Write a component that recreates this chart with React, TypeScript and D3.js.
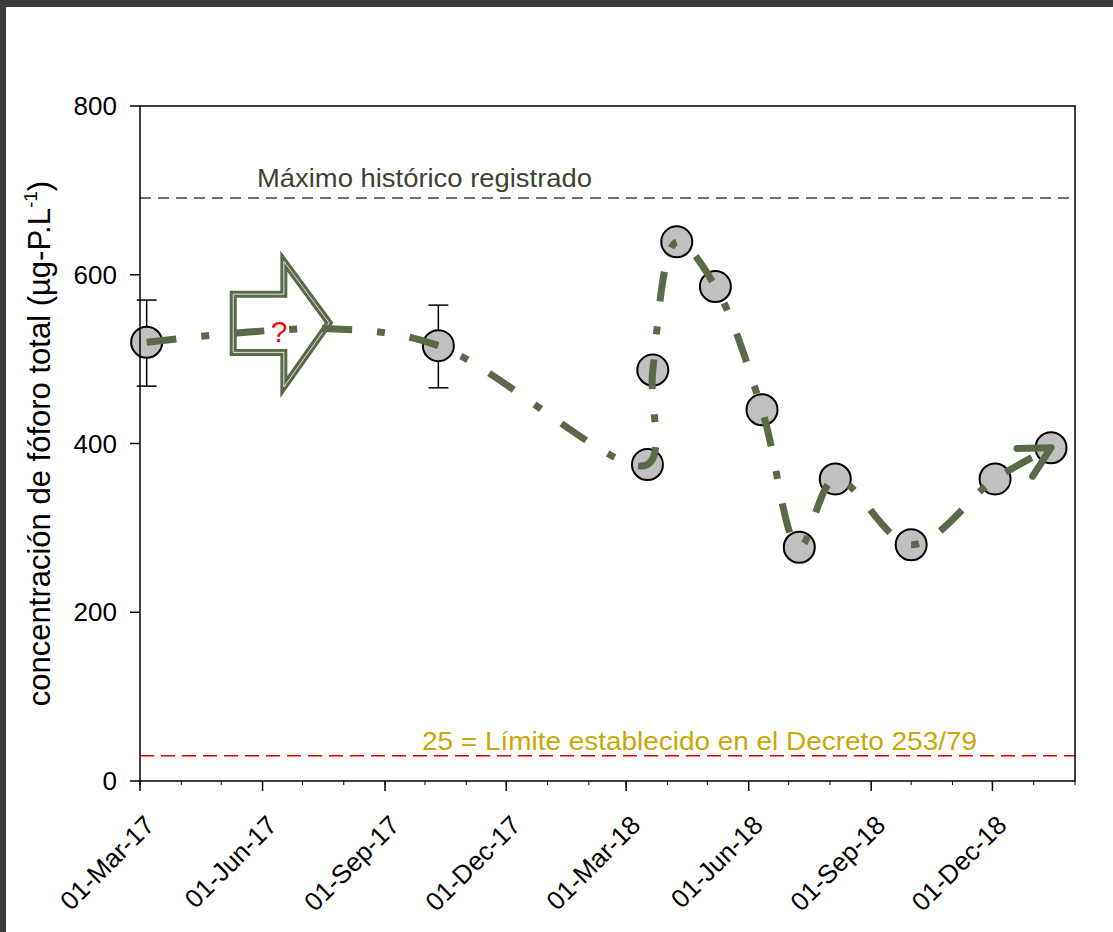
import React from 'react';
import * as d3 from 'd3';

// ---- data ----
const sampleDates = ['2017-03-06', '2017-10-11', '2018-03-17', '2018-03-21', '2018-04-08', '2018-05-07', '2018-06-11', '2018-07-09', '2018-08-05', '2018-10-01', '2018-12-03', '2019-01-14'];
const phosphorus = [520, 516, 375, 487, 639, 586, 440, 277, 358, 280, 358, 395];
const errLow = [468, 466];
const errHigh = [570, 564];
const errIndex = [0, 1];
// waypoint of the hand-drawn trend line at the tip of the "?" arrow (no sample)
const trendVia = { date: '2017-07-21', value: 536, after: 0 };
// block arrow outline (date, value)
const blockArrow: [string, number][] = [
  ['2017-05-10', 577], ['2017-06-17', 577], ['2017-06-17', 616], ['2017-07-21', 543],
  ['2017-06-17', 467], ['2017-06-17', 508], ['2017-05-10', 508],
];
const xTickDates = ['2017-03-01', '2017-06-01', '2017-09-01', '2017-12-01', '2018-03-01', '2018-06-01', '2018-09-01', '2018-12-01'];
const yTicks = [0, 200, 400, 600, 800];
const maxHistoric = 691;
const legalLimit = 30;
const maxLabel = 'Máximo histórico registrado';
const limitLabel = '25 = Límite establecido en el Decreto 253/79';

const parse = (s: string) => {
  const [y, m, d] = s.split('-').map(Number);
  return new Date(y, m - 1, d);
};

const W = 1113, H = 932;
const L = 140, R = 1075, T = 106, B = 781;
const OLIVE = '#5a6949';
const FONT = '"Liberation Sans", Arial, sans-serif';

export default function App() {
  const x = d3.scaleTime().domain([new Date(2017, 2, 1), new Date(2019, 1, 1)]).range([L, R]);
  const y = d3.scaleLinear().domain([0, 800]).range([B, T]);
  const fmt = d3.timeFormat('%d-%b-%y');

  const pts: [number, number][] = sampleDates.map((d, i) => [x(parse(d)), y(phosphorus[i])]);
  const trendPts: [number, number][] = [];
  pts.forEach((p, i) => {
    trendPts.push(p);
    if (i === trendVia.after) trendPts.push([x(parse(trendVia.date)), y(trendVia.value)]);
  });
  const line = d3.line<[number, number]>().curve(d3.curveCatmullRom.alpha(0.5));
  const trendD = line(trendPts) || '';

  // arrowhead at the end
  const pEnd = pts[pts.length - 1];
  const pPrev = pts[pts.length - 2];
  const back = Math.atan2(pPrev[1] - pEnd[1], pPrev[0] - pEnd[0]);
  const armLen = 34, spread = (28 * Math.PI) / 180;
  const arm = (a: number) => [pEnd[0] + armLen * Math.cos(a), pEnd[1] + armLen * Math.sin(a)];
  const a1 = arm(back + spread), a2 = arm(back - spread);
  const headD = `M${a1[0]},${a1[1]}L${pEnd[0]},${pEnd[1]}L${a2[0]},${a2[1]}`;

  const arrowPts = blockArrow.map(([d, v]) => [x(parse(d)), y(v)] as [number, number]);
  const arrowD = 'M' + arrowPts.map((p) => p.join(',')).join('L') + 'Z';

  const minor = d3.timeMonth.range(new Date(2017, 2, 1), new Date(2019, 1, 2));

  return (
    <svg width={W} height={H} style={{ position: 'absolute', left: 0, top: 0 }} fontFamily={FONT}>
      <rect x={0} y={0} width={W} height={H} fill="#3c3c3c" />
      <rect x={6} y={7} width={W - 6} height={H - 7} fill="#ffffff" />

      {/* reference lines */}
      <line x1={L} x2={R} y1={y(maxHistoric)} y2={y(maxHistoric)} stroke="#3c4234" strokeWidth={1.5} strokeDasharray="11,7" />
      <text x={257} y={y(maxHistoric) - 11} fontSize={25} fill="#3b4432" textLength={335} lengthAdjust="spacingAndGlyphs">{maxLabel}</text>
      <line x1={L} x2={R} y1={y(legalLimit)} y2={y(legalLimit)} stroke="#d40000" strokeWidth={1.6} strokeDasharray="14,7" />
      <text x={422} y={y(legalLimit) - 6} fontSize={25} fill="#c9a60a" textLength={555} lengthAdjust="spacingAndGlyphs">{limitLabel}</text>

      {/* error bars */}
      {errIndex.map((idx, k) => {
        const cx = pts[idx][0];
        return (
          <g key={k} stroke="#000" strokeWidth={1.5}>
            <line x1={cx} x2={cx} y1={y(errLow[k])} y2={y(errHigh[k])} />
            <line x1={cx - 10} x2={cx + 10} y1={y(errLow[k])} y2={y(errLow[k])} />
            <line x1={cx - 10} x2={cx + 10} y1={y(errHigh[k])} y2={y(errHigh[k])} />
          </g>
        );
      })}

      {/* points */}
      {pts.map((p, i) => (
        <circle key={i} cx={p[0]} cy={p[1]} r={15.5} fill="#c0c0c0" stroke="#000" strokeWidth={2} />
      ))}

      {/* block arrow with ? */}
      <path d={arrowD} fill="none" stroke={OLIVE} strokeWidth={7} strokeLinejoin="miter" />
      <path d={arrowD} fill="none" stroke="#dfe5d8" strokeWidth={1} strokeLinejoin="miter" />

      {/* trend line */}
      <path d={trendD} fill="none" stroke={OLIVE} strokeWidth={7} strokeDasharray="30,25,8,25" />
      <path d={headD} fill="none" stroke={OLIVE} strokeWidth={7} strokeLinecap="round" strokeLinejoin="round" />
      <text x={279} y={342} fontSize={30} fill="#ff0000" textAnchor="middle">?</text>

      {/* axes frame */}
      <rect x={L} y={T} width={R - L} height={B - T} fill="none" stroke="#000" strokeWidth={1.5} />
      {yTicks.map((t) => (
        <g key={t}>
          <line x1={L - 10} x2={L} y1={y(t)} y2={y(t)} stroke="#000" strokeWidth={1.5} />
          <text x={L - 23} y={y(t)} dy="0.35em" fontSize={26} textAnchor="end" fill="#000">{t}</text>
        </g>
      ))}
      {minor.map((m, i) => (
        <line key={i} x1={x(m)} x2={x(m)} y1={B} y2={B + 4} stroke="#000" strokeWidth={1} />
      ))}
      {xTickDates.map((d) => {
        const xx = x(parse(d));
        return (
          <g key={d}>
            <line x1={xx} x2={xx} y1={B} y2={B + 10} stroke="#000" strokeWidth={1.5} />
            <text transform={`translate(${xx + 3},${B + 33}) rotate(-45)`} fontSize={26} textAnchor="end" dy="0.7em" fill="#000">{fmt(parse(d))}</text>
          </g>
        );
      })}

      {/* y label */}
      <text transform={`translate(50,${(T + B) / 2}) rotate(-90)`} fontSize={31} textAnchor="middle" fill="#000">
        concentración de fóforo total (µg-P.L<tspan fontSize={19} dy={-13}>-1</tspan><tspan dy={13}>)</tspan>
      </text>
    </svg>
  );
}
